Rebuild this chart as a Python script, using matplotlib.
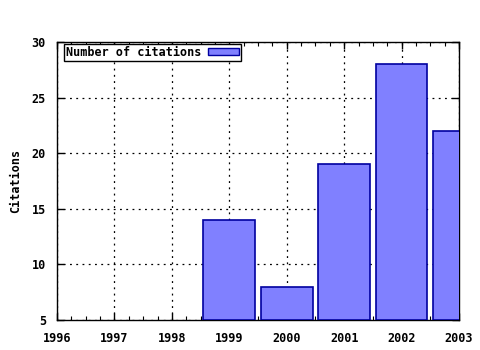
import matplotlib
matplotlib.use("Agg")
import matplotlib.pyplot as plt
from matplotlib.ticker import MultipleLocator
from matplotlib.patches import Patch

years = [1999, 2000, 2001, 2002, 2003]
citations = [14, 8, 19, 28, 22]
xticks = [1996, 1997, 1998, 1999, 2000, 2001, 2002, 2003]
yticks = [5, 10, 15, 20, 25, 30]

plt.rcParams['font.family'] = ['DejaVu Sans Mono']
plt.rcParams['font.weight'] = 'bold'
plt.rcParams['font.size'] = 8.5

fig = plt.figure(figsize=(4.8, 3.5), dpi=100)
ax = fig.add_axes([57/480, 1-320/350, (459-57)/480, (320-42)/350])

ax.bar(years, [c - 5 for c in citations], bottom=5, width=0.9,
       color='#8080ff', edgecolor='#0000a0', linewidth=1.2, zorder=3)

ax.set_xlim(1996, 2003)
ax.set_ylim(5, 30)
ax.set_xticks(xticks)
ax.set_xticklabels([str(x) for x in xticks], fontweight='bold')
ax.set_yticks(yticks)
ax.set_yticklabels([str(y) for y in yticks], fontweight='bold')
ax.xaxis.set_minor_locator(MultipleLocator(0.25))
ax.tick_params(axis='both', which='both', direction='in', top=True, right=True)
ax.tick_params(axis='both', which='major', length=5, width=1)
ax.tick_params(axis='x', which='major', pad=9)
ax.tick_params(axis='y', which='major', pad=8)
ax.tick_params(axis='x', which='minor', length=3, width=0.8)
ax.grid(True, which='major', linestyle=(0, (1.5, 3.5)), color='black', linewidth=0.9, zorder=0)
for s in ax.spines.values():
    s.set_linewidth(1)
ax.set_ylabel('Citations', fontweight='bold', labelpad=7)

leg = ax.legend([Patch(facecolor='#8080ff', edgecolor='#0000a0')], ['Number of citations'],
                loc='upper left', bbox_to_anchor=(7/402, 1 - 2/278), frameon=True, fancybox=False,
                borderpad=0.15, handlelength=2.6, handleheight=0.55, handletextpad=0.6,
                borderaxespad=0.0,
                prop={'family': 'DejaVu Sans Mono', 'weight': 'bold', 'size': 8.5},
                markerfirst=False, framealpha=1)
leg.get_frame().set_edgecolor('black')
leg.get_frame().set_linewidth(1)

fig.savefig('out.png', dpi=100)
